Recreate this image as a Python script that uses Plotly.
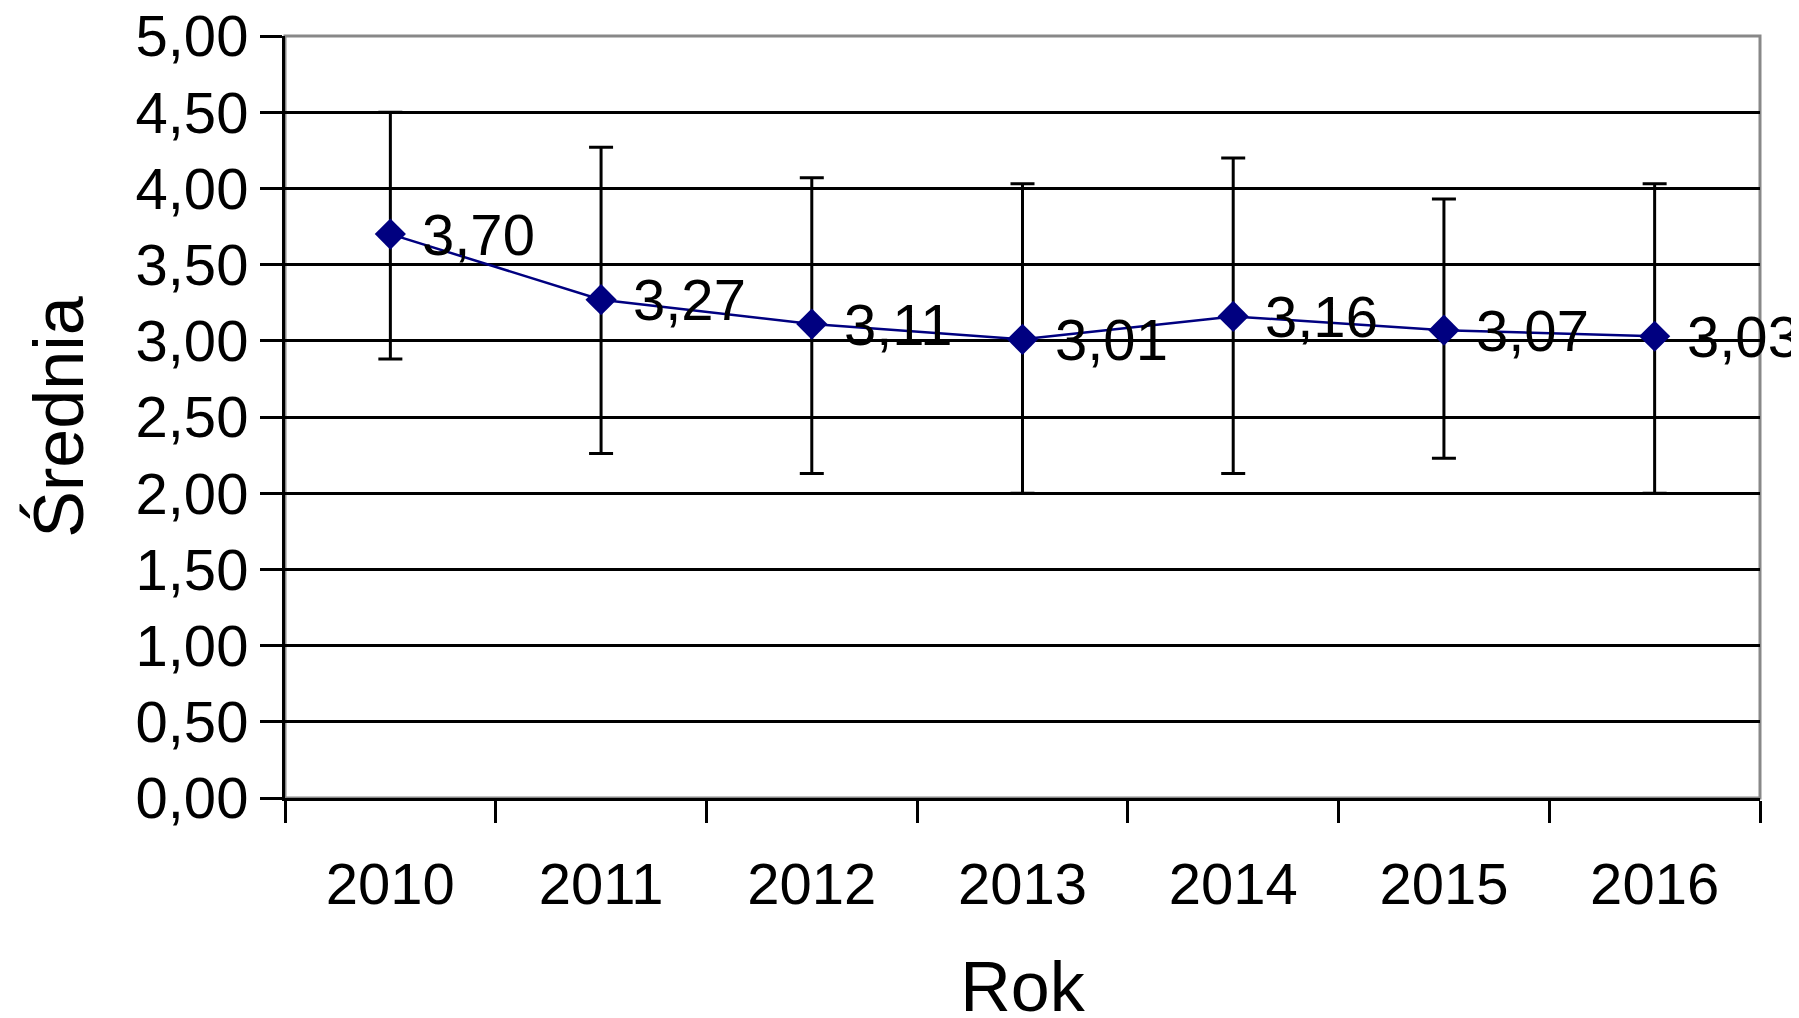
import plotly.graph_objects as go

years = ["2010", "2011", "2012", "2013", "2014", "2015", "2016"]
means = [3.70, 3.27, 3.11, 3.01, 3.16, 3.07, 3.03]
err_plus = [0.80, 1.00, 0.96, 1.02, 1.04, 0.86, 1.00]
err_minus = [0.82, 1.01, 0.98, 1.01, 1.03, 0.84, 1.03]
labels = ["3,70", "3,27", "3,11", "3,01", "3,16", "3,07", "3,03"]

navy = "#000080"
font = "Liberation Sans, Arial, sans-serif"
xpos = list(range(len(years)))

fig = go.Figure()
fig.add_trace(go.Scatter(
    x=xpos, y=means, mode="lines+markers",
    line=dict(color=navy, width=2.5),
    marker=dict(symbol="diamond", size=24, color=navy),
    error_y=dict(type="data", symmetric=False, array=err_plus, arrayminus=err_minus,
                 color="black", thickness=3, width=12),
    showlegend=False,
))
for x, m, lab in zip(xpos, means, labels):
    fig.add_annotation(x=x, y=m, text=lab, showarrow=False, xanchor="left",
                       yanchor="middle", xshift=30, yshift=0,
                       font=dict(family=font, size=58, color="black"))

fig.update_layout(
    width=1799, height=1018,
    margin=dict(l=277, r=47, t=28, b=228),
    paper_bgcolor="white", plot_bgcolor="white",
    font=dict(family=font, size=58, color="black"),
    xaxis=dict(range=[-0.5, 6.5], tickvals=xpos, ticktext=years, ticks="",
               ticklabelstandoff=33, automargin=False,
               minor=dict(tick0=-0.5, dtick=1, ticks="outside", ticklen=22,
                          tickwidth=3, tickcolor="black", showgrid=False),
               showgrid=False, zeroline=False,
               showline=True, linecolor="black", linewidth=3,
               title=dict(text="Rok", standoff=52), tickfont=dict(size=58)),
    yaxis=dict(range=[0, 5], tickvals=[i * 0.5 for i in range(11)],
               ticktext=[f"{i * 0.5:.2f}".replace(".", ",") for i in range(11)],
               ticklabeloverflow="allow", automargin=False,
               ticks="outside", ticklen=22, tickwidth=3, tickcolor="black",
               showgrid=True, gridcolor="black", gridwidth=3,
               showline=True, linecolor="black", linewidth=3, zeroline=False,
               title=dict(text="Średnia", standoff=30), tickfont=dict(size=58)),
)
fig.add_shape(type="rect", xref="paper", yref="paper", x0=0, y0=0, x1=1, y1=1,
              line=dict(color="#888888", width=3), layer="below")

fig.write_html("out.html")
